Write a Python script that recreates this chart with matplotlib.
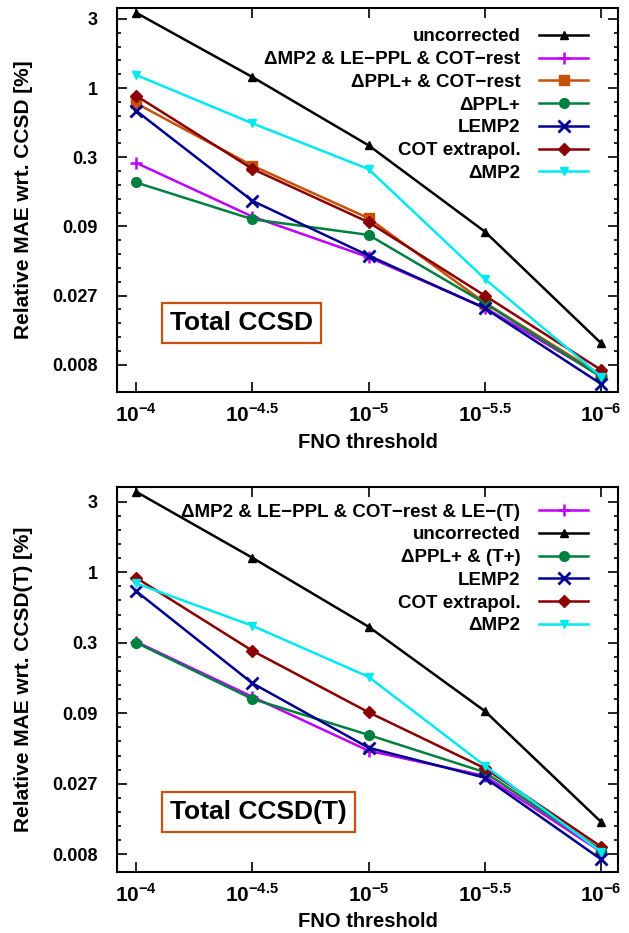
import numpy as np
import matplotlib
matplotlib.use("Agg")
import matplotlib.pyplot as plt
from matplotlib.ticker import FixedLocator, NullFormatter

plt.rcParams['font.family'] = ['Liberation Sans', 'DejaVu Sans']
plt.rcParams['font.weight'] = 'bold'
plt.rcParams['mathtext.fontset'] = 'custom'
plt.rcParams['mathtext.rm'] = 'Liberation Sans:bold'
plt.rcParams['mathtext.bf'] = 'Liberation Sans:bold'

# FNO threshold exponents (10^-x)
thresholds = [4, 4.5, 5, 5.5, 6]
xtick_labels = [r'$10^{-4}$', r'$10^{-4.5}$', r'$10^{-5}$', r'$10^{-5.5}$', r'$10^{-6}$']
ytick_labels = ['3', '1', '0.3', '0.09', '0.027', '0.008']

# Total CCSD
ccsd_uncorrected = [3.34, 1.11, 0.344, 0.0785, 0.0116]
ccsd_mp2_leppl_cot = [0.255, 0.1015, 0.0506, 0.0213, 0.0066]
ccsd_ppl_cot = [0.708, 0.243, 0.0987, 0.0232, 0.00673]
ccsd_ppl = [0.182, 0.097, 0.0741, 0.023, 0.0065]
ccsd_lemp2 = [0.623, 0.133, 0.052, 0.0211, 0.00577]
ccsd_cot = [0.806, 0.230, 0.0921, 0.0262, 0.00733]
ccsd_dmp2 = [1.15, 0.502, 0.229, 0.0349, 0.00654]

# Total CCSD(T)
ccsdt_mp2_leppl_cot_let = [0.285, 0.113, 0.0456, 0.0299, 0.00836]
ccsdt_uncorrected = [3.55, 1.17, 0.367, 0.0889, 0.0138]
ccsdt_ppl_t = [0.281, 0.109, 0.0595, 0.0318, 0.0086]
ccsdt_lemp2 = [0.668, 0.142, 0.048, 0.029, 0.00736]
ccsdt_cot = [0.836, 0.245, 0.0871, 0.034, 0.0091]
ccsdt_dmp2 = [0.761, 0.373, 0.158, 0.0355, 0.00836]

styles = {
    'uncorrected': dict(color='black', marker='^', ms=6),
    'mp2mix': dict(color='#c000ff', marker='+', ms=9, mew=1.8),
    'pplcot': dict(color='#c8500a', marker='s', ms=7),
    'ppl': dict(color='#008040', marker='o', ms=7),
    'lemp2': dict(color='#000090', marker='x', ms=8, mew=2),
    'cot': dict(color='#8b0000', marker='D', ms=6),
    'dmp2': dict(color='#00e8f0', marker='v', ms=6),
}

fig = plt.figure(figsize=(6.29, 9.33), dpi=100)
ax1 = fig.add_axes([0.186, 0.580, 0.7965, 0.4114])
ax2 = fig.add_axes([0.186, 0.0657, 0.7965, 0.4123])

top_series = [
    ('uncorrected', ccsd_uncorrected, 'uncorrected'),
    ('ΔMP2 & LE−PPL & COT−rest', ccsd_mp2_leppl_cot, 'mp2mix'),
    ('ΔPPL+ & COT−rest', ccsd_ppl_cot, 'pplcot'),
    ('ΔPPL+', ccsd_ppl, 'ppl'),
    ('LEMP2', ccsd_lemp2, 'lemp2'),
    ('COT extrapol.', ccsd_cot, 'cot'),
    ('ΔMP2', ccsd_dmp2, 'dmp2'),
]
bottom_series = [
    ('ΔMP2 & LE−PPL & COT−rest & LE−(T)', ccsdt_mp2_leppl_cot_let, 'mp2mix'),
    ('uncorrected', ccsdt_uncorrected, 'uncorrected'),
    ('ΔPPL+ & (T+)', ccsdt_ppl_t, 'ppl'),
    ('LEMP2', ccsdt_lemp2, 'lemp2'),
    ('COT extrapol.', ccsdt_cot, 'cot'),
    ('ΔMP2', ccsdt_dmp2, 'dmp2'),
]

yticks = np.geomspace(3, 0.008, 6)

panels = [
    (ax1, top_series, 'Relative MAE wrt. CCSD [%]', 'Total CCSD', (0.00503, 3.62), 0.947, 0.18),
    (ax2, bottom_series, 'Relative MAE wrt. CCSD(T) [%]', 'Total CCSD(T)', (0.00597, 3.84), 0.957, 0.156),
]

for ax, series, ylabel, box, ylim, leg_y, box_y in panels:
    for label, vals, key in series:
        ax.plot(thresholds, vals, label=label, lw=1.8, **styles[key])
    ax.set_yscale('log')
    ax.set_xlim(3.918, 6.073)
    ax.set_ylim(*ylim)
    ax.yaxis.set_major_locator(FixedLocator(yticks))
    ax.set_yticklabels(ytick_labels)
    minor = []
    for a, b in zip(yticks[:-1], yticks[1:]):
        minor.extend(np.geomspace(a, b, 6)[1:-1])
    ax.yaxis.set_minor_locator(FixedLocator(minor))
    ax.yaxis.set_minor_formatter(NullFormatter())
    ax.set_xticks(thresholds)
    ax.set_xticklabels(xtick_labels)
    ax.tick_params(which='both', direction='in', top=True, right=True, width=1.2)
    ax.tick_params(which='major', length=7)
    ax.tick_params(which='minor', length=3)
    ax.tick_params(axis='y', which='major', labelsize=13, pad=14)
    ax.tick_params(axis='x', which='major', labelsize=15, pad=8)
    for sp in ax.spines.values():
        sp.set_linewidth(1.5)
    ax.set_xlabel('FNO threshold', fontsize=14.5, fontweight='bold', labelpad=5)
    ax.set_ylabel(ylabel, fontsize=15, fontweight='bold')
    ax.yaxis.set_label_coords(-0.168, 0.5)
    ax.legend(loc='upper right', bbox_to_anchor=(0.94, leg_y), frameon=False,
              markerfirst=False, fontsize=13.5, handlelength=2.6, handletextpad=1.0,
              labelspacing=0.3, borderpad=0, borderaxespad=0)
    ax.text(0.106, box_y, box, transform=ax.transAxes, fontsize=19, fontweight='bold',
            va='center', ha='left',
            bbox=dict(boxstyle='square,pad=0.3', fc='white', ec='#c8500a', lw=1.6))

fig.savefig('out.png', dpi=100)
